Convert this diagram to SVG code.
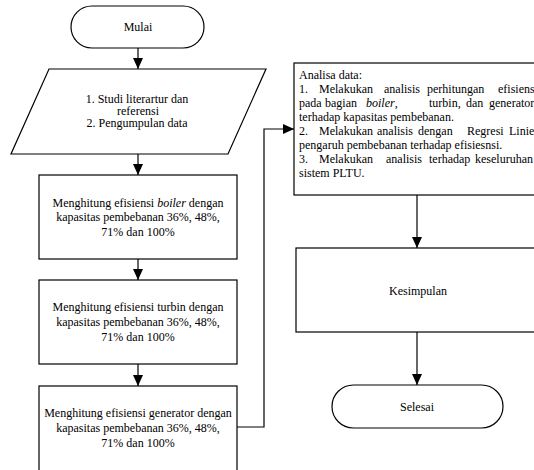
<svg xmlns="http://www.w3.org/2000/svg" width="534" height="470" viewBox="0 0 534 470" font-family="'Liberation Serif', Tinos, 'Times New Roman', 'DejaVu Serif', serif" font-size="12">
<style>
.s{fill:#fff;stroke:#000;stroke-width:1.2}
.c{fill:none;stroke:#000;stroke-width:1.2}
.m{text-anchor:middle}
</style>
<defs>
<marker id="ah" markerUnits="userSpaceOnUse" markerWidth="11" markerHeight="10" refX="11" refY="5" orient="auto">
<path d="M0,0 L11,5 L0,10 z" fill="#000"/>
</marker>
</defs>
<rect width="534" height="470" fill="#fff"/>
<g id="connectors">
<line class="c" x1="138" y1="48" x2="138" y2="69" marker-end="url(#ah)"/>
<line class="c" x1="138" y1="154" x2="138" y2="175" marker-end="url(#ah)"/>
<line class="c" x1="138" y1="259" x2="138" y2="280" marker-end="url(#ah)"/>
<line class="c" x1="138" y1="364" x2="138" y2="386" marker-end="url(#ah)"/>
<polyline class="c" points="237,427 264,427 264,129 294,129" marker-end="url(#ah)"/>
<line class="c" x1="417" y1="195" x2="417" y2="248" marker-end="url(#ah)"/>
<line class="c" x1="417" y1="332" x2="417" y2="385" marker-end="url(#ah)"/>
</g>
<g id="mulai">
<rect class="s" x="71" y="6" width="133" height="42" rx="21" ry="21"/>
<text class="m" x="138" y="31">Mulai</text>
</g>
<g id="input">
<polygon class="s" points="49,69 266,69 228,154 11,154"/>
<text class="m" x="137" y="103">1. Studi literartur dan</text>
<text class="m" x="138" y="115">referensi</text>
<text class="m" x="137" y="127">2. Pengumpulan data</text>
</g>
<g id="boiler">
<rect class="s" x="39" y="175" width="198" height="84"/>
<text class="m" x="138" y="207">Menghitung efisiensi <tspan font-style="italic">boiler</tspan> dengan</text>
<text class="m" x="138" y="221">kapasitas pembebanan 36%, 48%,</text>
<text class="m" x="138" y="236">71% dan 100%</text>
</g>
<g id="turbin">
<rect class="s" x="39" y="280" width="198" height="84"/>
<text class="m" x="138" y="311">Menghitung efisiensi turbin dengan</text>
<text class="m" x="138" y="326">kapasitas pembebanan 36%, 48%,</text>
<text class="m" x="138" y="341">71% dan 100%</text>
</g>
<g id="generator">
<rect class="s" x="39" y="386" width="198" height="86"/>
<text class="m" x="138" y="417">Menghitung efisiensi generator dengan</text>
<text class="m" x="138" y="432">kapasitas pembebanan 36%, 48%,</text>
<text class="m" x="138" y="447">71% dan 100%</text>
</g>
<g id="analisa">
<rect class="s" x="294" y="63" width="246" height="132"/>
<text x="299" y="79">Analisa data:</text>
<text y="93"><tspan x="299">1.</tspan><tspan x="319">Melakukan</tspan><tspan x="384">analisis</tspan><tspan x="427">perhitungan</tspan><tspan x="498">efisiensi</tspan></text>
<text y="107"><tspan x="299">pada</tspan><tspan x="325">bagian</tspan><tspan x="366" font-style="italic">boiler</tspan>,<tspan x="429">turbin,</tspan><tspan x="466">dan</tspan><tspan x="489">generator</tspan></text>
<text x="299" y="121">terhadap kapasitas pembebanan.</text>
<text y="135"><tspan x="299">2.</tspan><tspan x="319">Melakukan</tspan><tspan x="377">analisis</tspan><tspan x="418">dengan</tspan><tspan x="467">Regresi</tspan><tspan x="509">Linier</tspan></text>
<text x="299" y="149">pengaruh pembebanan terhadap efisiesnsi.</text>
<text y="163"><tspan x="299">3.</tspan><tspan x="319">Melakukan</tspan><tspan x="386">analisis</tspan><tspan x="429">terhadap</tspan><tspan x="475">keseluruhan</tspan></text>
<text x="299" y="177">sistem PLTU.</text>
</g>
<g id="kesimpulan">
<rect class="s" x="296" y="248" width="246" height="84"/>
<text class="m" x="418" y="295">Kesimpulan</text>
</g>
<g id="selesai">
<rect class="s" x="332" y="385" width="171" height="43" rx="21.5" ry="21.5"/>
<text class="m" x="417" y="411">Selesai</text>
</g>
</svg>
